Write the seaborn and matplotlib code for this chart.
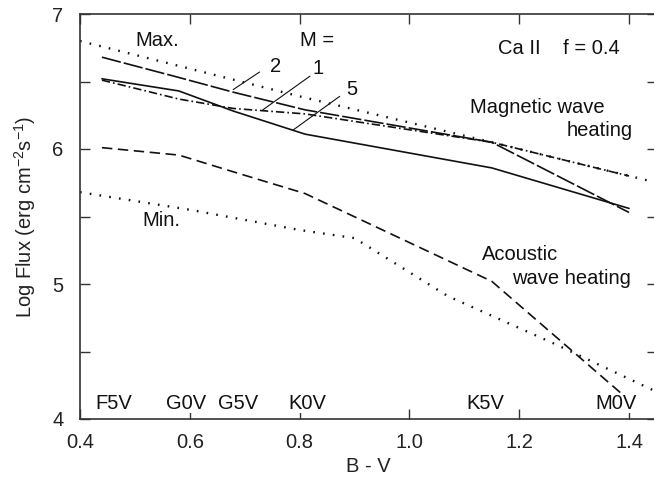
import pandas as pd
import numpy as np
from matplotlib import pyplot as plt
from matplotlib import ticker
import seaborn as sns

sns.set_style("ticks")
plt.rcParams["font.family"] = ["Liberation Sans", "DejaVu Sans"]
plt.rcParams["mathtext.fontset"] = "custom"
plt.rcParams["mathtext.rm"] = "Liberation Sans"
plt.rcParams["mathtext.it"] = "Liberation Sans"
plt.rcParams["lines.scale_dashes"] = False

# B-V colour of the model stars
bv_stars = [0.44, 0.58, 0.68, 0.81, 1.15, 1.40]
flux_m1 = [6.51, 6.37, 6.30, 6.26, 6.05, 5.80]
flux_m2 = [6.68, 6.53, 6.42, 6.29, 6.05, 5.53]
flux_m5 = [6.52, 6.43, 6.28, 6.11, 5.86, 5.56]
flux_acoustic = [6.01, 5.955, 5.83, 5.67, 5.02, 4.14]

# observed upper / lower envelopes
bv_max = [0.40, 0.80, 1.15, 1.451]
flux_max = [6.80, 6.39, 6.05, 5.75]
bv_min = [0.40, 0.60, 0.80, 0.90, 1.07, 1.26, 1.451]
flux_min = [5.68, 5.55, 5.40, 5.34, 4.91, 4.565, 4.20]

spec_types = ["F5V", "G0V", "G5V", "K0V", "K5V", "M0V"]
spec_pos = [0.461, 0.594, 0.688, 0.814, 1.139, 1.376]

frames = []
for name, xs, ys in [("M1", bv_stars, flux_m1), ("M2", bv_stars, flux_m2),
                     ("M5", bv_stars, flux_m5), ("acoustic", bv_stars, flux_acoustic)]:
    frames.append(pd.DataFrame({"bv": xs, "flux": ys, "curve": name}))
df = pd.concat(frames, ignore_index=True)

env = pd.concat([pd.DataFrame({"bv": bv_max, "flux": flux_max, "curve": "max"}),
                 pd.DataFrame({"bv": bv_min, "flux": flux_min, "curve": "min"})],
                ignore_index=True)

dash_map = {
    "M1": (6, 2.2, 1.2, 2.2),
    "M2": (14, 2.2),
    "M5": "",
    "acoustic": (7.5, 4),
}

fig = plt.figure(figsize=(6.54, 4.79), dpi=100)
ax = fig.add_axes([80 / 654, 60 / 479, 577 / 654, 405 / 479])

sns.lineplot(data=df, x="bv", y="flux", style="curve", dashes=dash_map,
             color="#111111", linewidth=1.2, legend=False, ax=ax)
sns.lineplot(data=env, x="bv", y="flux", units="curve", estimator=None,
             color="#111111", linewidth=1.7, linestyle=(0, (1.2, 5.9)),
             legend=False, ax=ax)

ax.set_xlim(0.4, 1.451)
ax.set_ylim(4, 7)
ax.xaxis.set_major_locator(ticker.MultipleLocator(0.2))
ax.xaxis.set_major_formatter(ticker.FormatStrFormatter("%.1f"))
ax.yaxis.set_major_locator(ticker.MultipleLocator(1))
ax.yaxis.set_minor_locator(ticker.MultipleLocator(0.5))
ax.tick_params(which="both", direction="in", top=True, right=True,
               length=7, width=1, color="#333333", labelsize=14.5,
               labelcolor="#222222")
ax.tick_params(axis="x", pad=10)
ax.tick_params(axis="y", pad=12)
for s in ax.spines.values():
    s.set_linewidth(1.2)
    s.set_color("#333333")

ax.set_xlabel("B - V", fontsize=14.5, color="#222222", labelpad=4)
ax.set_ylabel("Log Flux (erg cm$^{-2}$s$^{-1}$)", fontsize=14.5,
              color="#222222", labelpad=10)

txt = dict(fontsize=14.5, color="#111111")
for lab, xp in zip(spec_types, spec_pos):
    ax.text(xp, 4.117, lab, ha="center", va="center",
            bbox=dict(facecolor="white", edgecolor="none", pad=0.5), **txt)

ax.text(0.54, 6.80, "Max.", ha="center", va="center", **txt)
ax.text(0.548, 5.47, "Min.", ha="center", va="center", **txt)
ax.text(0.832, 6.80, "M =", ha="center", va="center", **txt)
ax.text(1.161, 6.747, "Ca II    f = 0.4", ha="left", va="center", **txt)
ax.text(1.110, 6.31, "Magnetic wave", ha="left", va="center", **txt)
ax.text(1.407, 6.14, "heating", ha="right", va="center", **txt)
ax.text(1.132, 5.22, "Acoustic", ha="left", va="center", **txt)
ax.text(1.187, 5.04, "wave heating", ha="left", va="center", **txt)

# curve labels with leader lines
for lab, (tx, ty), (lx0, ly0), (lx1, ly1) in [
    ("2", (0.757, 6.61), (0.727, 6.57), (0.679, 6.44)),
    ("1", (0.833, 6.595), (0.819, 6.54), (0.733, 6.29)),
    ("5", (0.895, 6.44), (0.873, 6.39), (0.788, 6.14)),
]:
    ax.text(tx, ty, lab, ha="center", va="center", **txt)
    ax.plot([lx0, lx1], [ly0, ly1], color="#111111", linewidth=0.8)

fig.savefig("out.png", dpi=100)
